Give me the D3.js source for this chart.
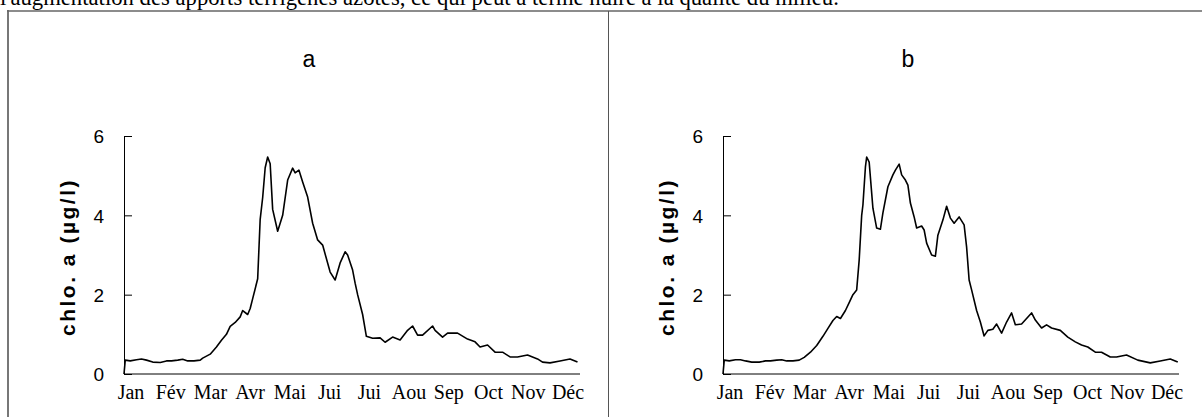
<!DOCTYPE html>
<html>
<head>
<meta charset="utf-8">
<script src="https://cdn.jsdelivr.net/npm/d3@7"></script>
<style>
  body { margin: 0; background: #fff; }
  .tick text { fill: #000; }
</style>
</head>
<body>
<svg id="chart" width="1202" height="417"></svg>
<script>
// months shown under each x axis
var months = ["Jan", "Fév", "Mar", "Avr", "Mai", "Jui", "Jui", "Aou", "Sep", "Oct", "Nov", "Déc"];
var yTicks = [0, 2, 4, 6];

// panel a : day of year / chlorophyll a (µg/l)
var daysA = [0, 1, 5, 10, 14, 18, 23, 29, 34, 38, 43, 47, 51, 56, 61, 63, 69, 74, 78, 82, 85, 89, 93, 95, 99, 101, 103, 107, 109, 111, 113, 115, 117, 119, 123, 127, 131, 135, 137, 140, 143, 147, 151, 155, 159, 165, 169, 173, 177, 179, 183, 185, 187, 191, 194, 199, 205, 209, 215, 221, 227, 231, 235, 239, 247, 249, 255, 259, 267, 275, 281, 285, 291, 297, 303, 309, 315, 323, 331, 335, 341, 349, 357, 363];
var chloA = [0, 0.35, 0.33, 0.36, 0.38, 0.35, 0.3, 0.29, 0.33, 0.33, 0.35, 0.37, 0.33, 0.33, 0.35, 0.4, 0.5, 0.68, 0.85, 1.0, 1.2, 1.3, 1.44, 1.6, 1.5, 1.65, 1.9, 2.4, 3.9, 4.45, 5.2, 5.47, 5.3, 4.15, 3.6, 4.0, 4.89, 5.19, 5.07, 5.14, 4.84, 4.46, 3.8, 3.38, 3.25, 2.57, 2.37, 2.8, 3.08, 3.0, 2.62, 2.29, 2.0, 1.5, 0.95, 0.9, 0.91, 0.8, 0.93, 0.86, 1.1, 1.21, 0.98, 0.98, 1.21, 1.1, 0.93, 1.03, 1.03, 0.88, 0.81, 0.68, 0.73, 0.55, 0.55, 0.43, 0.43, 0.48, 0.38, 0.3, 0.28, 0.33, 0.38, 0.3];

// panel b
var daysB = [0, 1, 5, 10, 14, 18, 23, 29, 34, 38, 43, 47, 51, 56, 61, 65, 70, 75, 80, 84, 88, 91, 94, 98, 101, 104, 107, 109, 111, 112, 114, 115, 117, 120, 123, 126, 128, 132, 136, 138, 141, 143, 146, 148, 150, 153, 155, 159, 161, 163, 167, 170, 172, 176, 179, 182, 185, 189, 193, 195, 197, 199, 203, 206, 209, 212, 216, 219, 223, 227, 231, 234, 239, 247, 250, 255, 259, 263, 270, 276, 282, 287, 292, 298, 303, 310, 315, 323, 332, 342, 350, 358, 364];
var chloB = [0, 0.35, 0.33, 0.36, 0.36, 0.33, 0.3, 0.3, 0.33, 0.33, 0.35, 0.36, 0.33, 0.33, 0.35, 0.42, 0.55, 0.72, 0.95, 1.15, 1.35, 1.45, 1.4, 1.6, 1.8, 2.0, 2.12, 2.87, 4.0, 4.26, 5.22, 5.47, 5.34, 4.18, 3.68, 3.65, 4.06, 4.72, 5.02, 5.14, 5.29, 5.02, 4.89, 4.76, 4.31, 3.96, 3.68, 3.73, 3.63, 3.3, 3.0, 2.97, 3.5, 3.88, 4.23, 3.93, 3.8, 3.96, 3.76, 3.2, 2.37, 2.12, 1.6, 1.31, 0.96, 1.1, 1.13, 1.26, 1.03, 1.31, 1.54, 1.24, 1.26, 1.54, 1.36, 1.16, 1.24, 1.16, 1.1, 0.93, 0.81, 0.73, 0.68, 0.55, 0.55, 0.43, 0.43, 0.48, 0.35, 0.28, 0.33, 0.38, 0.3];

var svg = d3.select("#chart"),
  margin = { top: 136, left: 124 },
  width = 456,
  height = 238;

// caption line cut at top of the page
svg.append("text")
  .attr("x", 0)
  .attr("y", 5)
  .style("font-family", "'Liberation Serif', 'Times New Roman', serif")
  .style("font-size", "22.7px")
  .text("l'augmentation des apports terrigènes azotés, ce qui peut à terme nuire à la qualité du milieu.");

// frame
svg.append("line").attr("x1", 8).attr("x2", 8).attr("y1", 10).attr("y2", 417)
  .attr("stroke", "#777").attr("stroke-width", 2);
svg.append("line").attr("x1", 7).attr("x2", 1202).attr("y1", 11).attr("y2", 11)
  .attr("stroke", "#666").attr("stroke-width", 1.5);
svg.append("line").attr("x1", 608.5).attr("x2", 608.5).attr("y1", 11).attr("y2", 417)
  .attr("stroke", "#555").attr("stroke-width", 1);

var x = d3.scaleLinear().domain([0, 365]).range([0, width]),
  y = d3.scaleLinear().domain([0, 6]).range([height, 0]),
  xm = d3.scalePoint().domain(d3.range(months.length)).range([7, 444]);

var panels = [
  { name: "a", dx: 0, days: daysA, vals: chloA },
  { name: "b", dx: 599, days: daysB, vals: chloB }
];

panels.forEach(function (p) {
  svg.append("text")
    .attr("x", 309 + p.dx)
    .attr("y", 67)
    .attr("text-anchor", "middle")
    .style("font-family", "'Liberation Sans', Arial, sans-serif")
    .style("font-size", "23px")
    .text(p.name);

  var g = svg.append("g")
    .attr("transform", "translate(" + (margin.left + p.dx) + "," + margin.top + ")");

  // y axis, ticks crossing the line
  var ya = g.append("g")
    .call(d3.axisLeft(y).tickValues(yTicks).tickFormat(d3.format("d"))
      .tickSizeInner(8).tickSizeOuter(0).tickPadding(12));
  ya.select(".domain").attr("stroke", "#000");
  ya.selectAll(".tick line").attr("x2", 8).attr("stroke", "#000");
  ya.selectAll(".tick text")
    .style("font-family", "'Liberation Sans', Arial, sans-serif")
    .style("font-size", "19px")
    .attr("dy", "0.36em");

  // x axis line
  g.append("line")
    .attr("x1", 0).attr("x2", width)
    .attr("y1", height).attr("y2", height)
    .attr("stroke", "#000");

  // month labels
  g.append("g")
    .selectAll("text")
    .data(months)
    .enter().append("text")
    .attr("x", function (d, i) { return xm(i); })
    .attr("y", height + 25)
    .attr("text-anchor", "middle")
    .style("font-family", "'Liberation Serif', 'Times New Roman', serif")
    .style("font-size", "20px")
    .text(function (d) { return d; });

  g.append("text")
    .attr("transform", "translate(-49," + (height / 2 + 2) + ") rotate(-90)")
    .attr("text-anchor", "middle")
    .style("font-family", "'Liberation Sans', Arial, sans-serif")
    .style("font-size", "21px")
    .style("font-weight", "bold")
    .style("letter-spacing", "2.5px")
    .text("chlo. a (µg/l)");

  var pts = p.days.map(function (d, i) { return [d, p.vals[i]]; });
  g.append("path")
    .datum(pts)
    .attr("fill", "none")
    .attr("stroke", "#000")
    .attr("stroke-width", 1.6)
    .attr("stroke-linejoin", "round")
    .attr("d", d3.line()
      .x(function (d) { return x(d[0]); })
      .y(function (d) { return y(d[1]); }));
});
</script>
</body>
</html>
